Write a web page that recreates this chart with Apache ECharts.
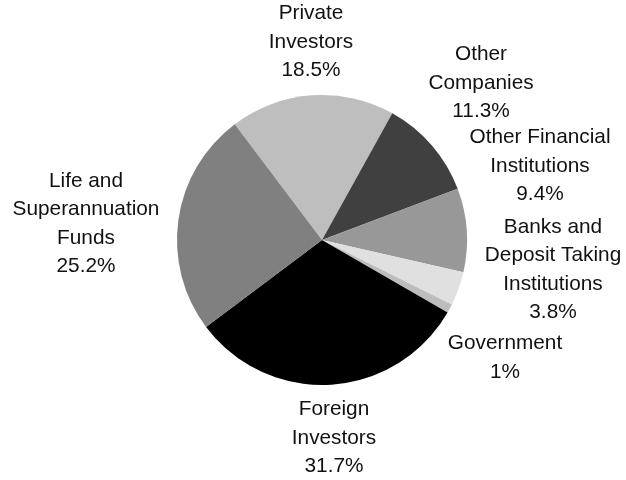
<!DOCTYPE html>
<html>
<head>
<meta charset="utf-8">
<script src="https://cdn.jsdelivr.net/npm/echarts@6/dist/echarts.min.js"></script>
<style>
  html, body { margin: 0; padding: 0; background: #fff; }
  #chart { width: 626px; height: 480px; }
</style>
</head>
<body>
<div id="chart"></div>
<script>
// holder categories and share (%)
const categories = [
  'Private\nInvestors',
  'Other\nCompanies',
  'Other Financial\nInstitutions',
  'Banks and\nDeposit Taking\nInstitutions',
  'Government',
  'Foreign\nInvestors',
  'Life and\nSuperannuation\nFunds'
];
const shares = [18.5, 11.3, 9.4, 3.8, 1, 31.7, 25.2];
const sliceColors = ['#bebebe', '#404040', '#989898', '#e0e0e0', '#bdbdbd', '#000000', '#808080'];

// label centres (px)
const labelPos = [
  [311, 42], [481, 83], [540, 166], [553, 270], [505, 358], [334, 438], [86, 224]
];

const chart = echarts.init(document.getElementById('chart'));

chart.setOption({
  backgroundColor: '#ffffff',
  animation: false,
  series: [
    {
      type: 'pie',
      center: [322, 240],
      radius: [0, 145],
      startAngle: 127,
      clockwise: true,
      avoidLabelOverlap: false,
      data: categories.map((name, i) => ({
        name: name,
        value: shares[i],
        itemStyle: { color: sliceColors[i] }
      })),
      itemStyle: { borderWidth: 0 },
      label: {
        show: true,
        position: 'outside',
        formatter: (p) => p.name + '\n' + p.value + '%',
        fontFamily: 'Liberation Sans, Arial, sans-serif',
        fontSize: 20.8,
        lineHeight: 28.5,
        color: '#111',
        align: 'center'
      },
      labelLine: { show: false },
      labelLayout: (params) => ({
        x: labelPos[params.dataIndex][0],
        y: labelPos[params.dataIndex][1],
        align: 'center',
        verticalAlign: 'middle'
      }),
      emphasis: { disabled: true }
    }
  ]
});
</script>
</body>
</html>
